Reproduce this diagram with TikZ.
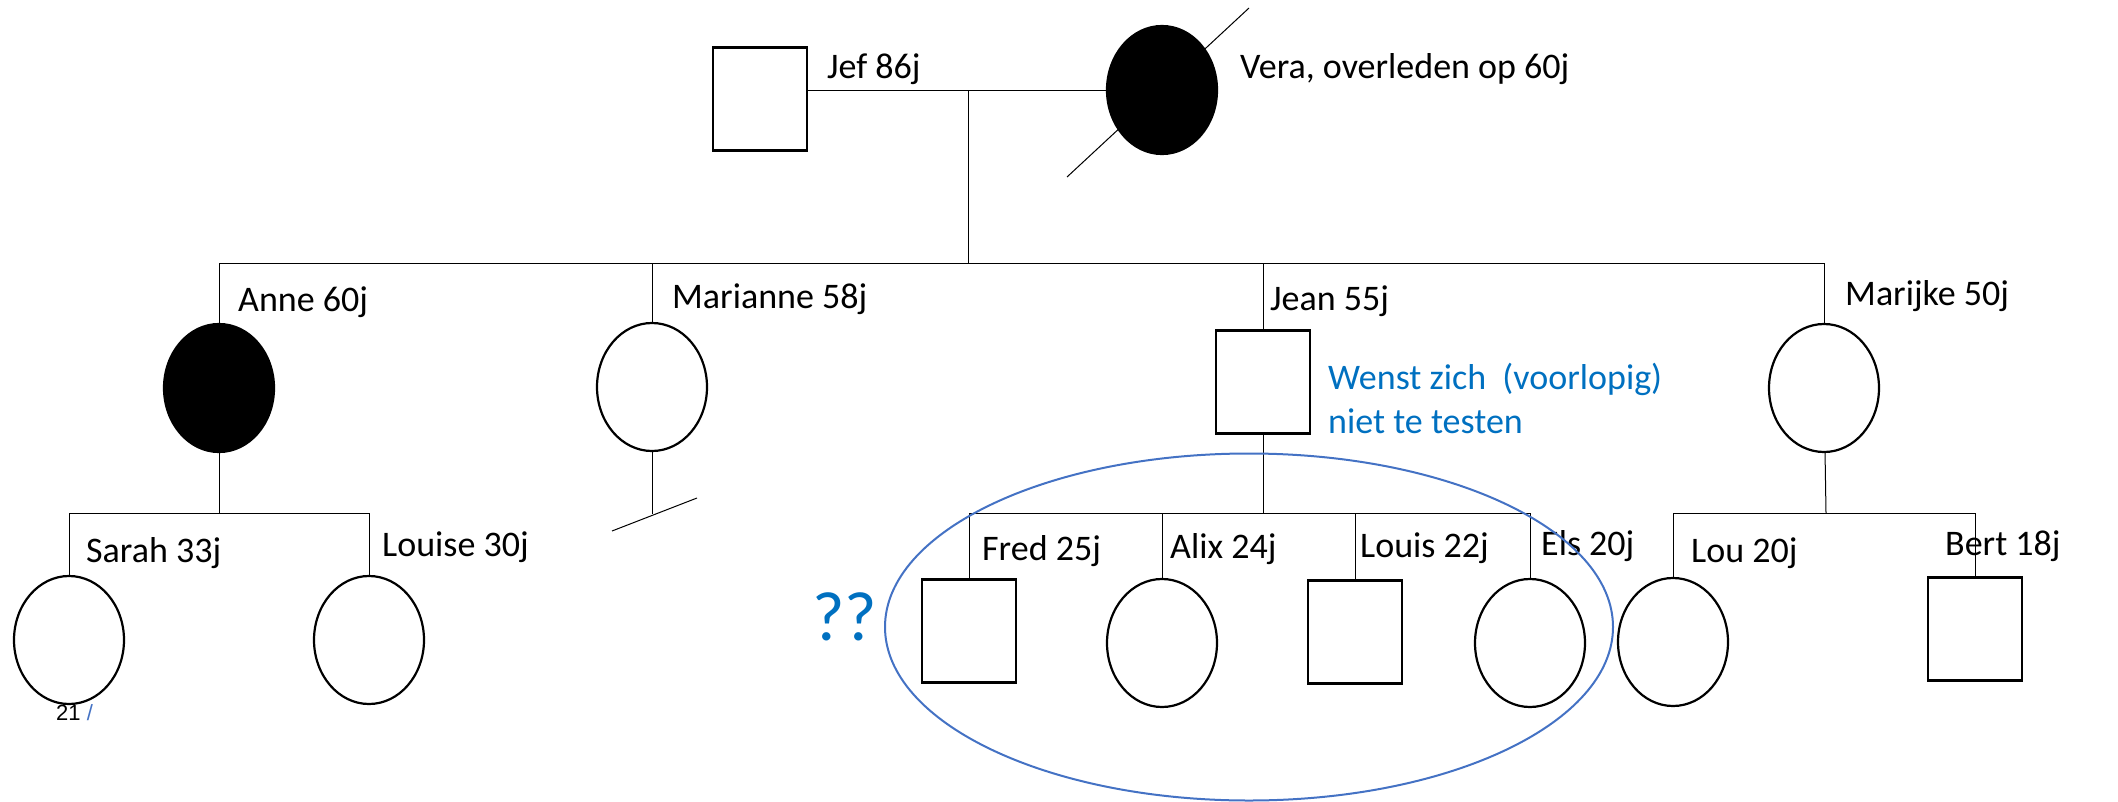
\documentclass[tikz,border=0pt]{standalone}
\usepackage{fontspec}
\setmainfont{Carlito}
\newfontfamily\pagefont{Liberation Sans}
\usepackage{xcolor}
\usetikzlibrary{shapes.geometric, calc}
\definecolor{noteblue}{HTML}{0070C0}
\definecolor{ringblue}{HTML}{4472C4}
\tikzset{
  male/.style={rectangle, draw, line width=2.2pt, minimum width=94pt,
               minimum height=103pt, inner sep=0pt},
  female/.style={ellipse, draw, line width=2.2pt, minimum width=110pt,
                 minimum height=128pt, inner sep=0pt},
  affected/.style={fill=black},
  tag/.style={anchor=base west, inner sep=0pt, font=\fontsize{36}{44}\selectfont},
  link/.style={line width=1pt},
}

\begin{document}
\begin{tikzpicture}[x=1pt, y=-1pt]
  \useasboundingbox (0,0) rectangle (2118,801);

  % generation I
  \node[male] (jef) at (760,99) {};
  \node[female, affected] (vera) at (1162,90) {};
  \node[tag] (tjef) at (827,78) {Jef 86j};
  \node[tag] (tvera) at (1240,78) {Vera, overleden op 60j};
  \draw[link] ($(vera)+(-95,87)$) -- ($(vera)+(87,-82)$);

  % generation II
  \node[female, affected] (anne) at (219,388) {};
  \node[female] (marianne) at (652,387) {};
  \node[male] (jean) at (1263,382) {};
  \node[female] (marijke) at (1824,388) {};
  \node[tag] (tanne) at (238,311) {Anne 60j};
  \node[tag] (tmarianne) at (672,308) {Marianne 58j};
  \node[tag] (tjean) at (1270,310) {Jean 55j};
  \node[tag] (tmarijke) at (1845,305) {Marijke 50j};
  % base of a two-line node sits on its last line
  \node[anchor=base west, inner sep=0pt, align=left, text=noteblue,
        font=\fontsize{36}{44}\selectfont] (note) at (1328,433)
        {Wenst zich~ (voorlopig)\\niet te testen};

  % generation III
  \node[female] (sarah) at (69,640) {};
  \node[female] (louise) at (369,640) {};
  \node[male] (fred) at (969,631) {};
  \node[female] (alix) at (1162,643) {};
  \node[male] (louis) at (1355,632) {};
  \node[female] (els) at (1530,643) {};
  \node[female] (lou) at (1673,642) {};
  \node[male] (bert) at (1975,629) {};
  \node[tag] (tsarah) at (86,562) {Sarah 33j};
  \node[tag] (tlouise) at (382,556) {Louise 30j};
  \node[tag] (tfred) at (982,560) {Fred 25j};
  \node[tag] (talix) at (1170,558) {Alix 24j};
  \node[tag] (tlouis) at (1360,557) {Louis 22j};
  \node[tag] (tels) at (1541,555) {Els 20j};
  \node[tag] (tlou) at (1691,562) {Lou 20j};
  \node[tag] (tbert) at (1945,555) {Bert 18j};

  % lines of descent
  \coordinate (m1) at (968,90);
  \coordinate (s1) at (968,263);
  \draw[link] (vera) -- (vera -| jef.east);
  \draw[link] (m1) -- (s1);
  \draw[link] (anne) -- (anne |- s1) -- (marijke |- s1) -- (marijke);
  \draw[link] (marianne) -- (marianne |- s1);
  \draw[link] (jean) -- (jean |- s1);

  \coordinate (s2) at (219,513);
  \draw[link] (anne) -- (s2);
  \draw[link] (sarah) -- (sarah |- s2) -- (louise |- s2) -- (louise);

  \coordinate (nc) at (652,514);
  \draw[link] (marianne) -- (nc);
  \draw[link] ($(nc)+(-40,17)$) -- ($(nc)+(45,-16)$);

  \coordinate (s3) at (1263,513);
  \draw[link] (jean) -- (s3);
  \draw[link] (fred) -- (fred |- s3) -- (els |- s3) -- (els);
  \draw[link] (alix) -- (alix |- s3);
  \draw[link] (louis) -- (louis |- s3);

  \coordinate (s4) at (1826,513);
  \draw[link] (marijke) -- (s4);
  \draw[link] (lou) -- (lou |- s4) -- (bert |- s4) -- (bert);

  % the children of Jean
  \node[ellipse, draw=ringblue, line width=2pt, minimum width=728pt,
        minimum height=347pt] (ring) at (1249,627) {};
  \node[anchor=base west, inner sep=0pt, text=noteblue,
        font=\fontsize{70}{76}\selectfont] (ask) at (812,640) {??};

  \node[anchor=base west, inner sep=0pt, font=\pagefont\fontsize{22}{26}\selectfont]
    (page) at (56,720) {21 {\color{ringblue}/}};
\end{tikzpicture}
\end{document}
